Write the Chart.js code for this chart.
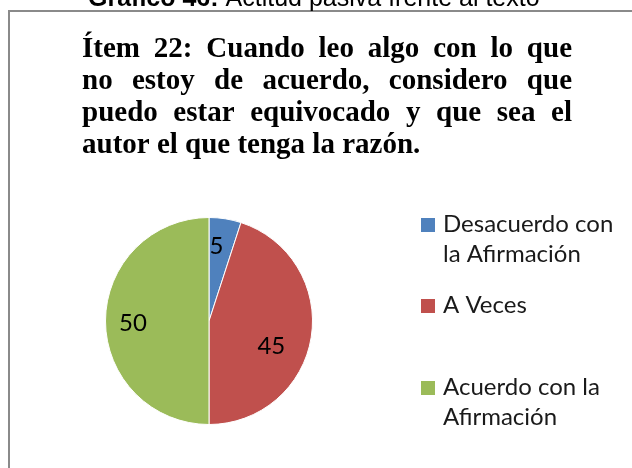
<!DOCTYPE html>
<html>
<head>
<meta charset="utf-8">
<script src="https://cdn.jsdelivr.net/npm/chart.js@4"></script>
<style>
  html, body { margin: 0; padding: 0; background: #fff; }
  #wrap { width: 632px; height: 468px; }
</style>
</head>
<body>
<div id="wrap"><canvas id="myChart" width="632" height="468"></canvas></div>
<script>
// données
const caption = ['Gráfico 46:', ' Actitud pasiva frente al texto'];
const titleLines = [
    'Ítem 22: Cuando leo algo con lo que',
    'no estoy de acuerdo, considero que',
    'puedo estar equivocado y que sea el',
    'autor el que tenga la razón.'
];
const categories = ['Desacuerdo con la Afirmación', 'A Veces', 'Acuerdo con la Afirmación'];
const values = [5, 45, 50];
const colors = ['#4F81BD', '#C0504D', '#9BBB59'];

// placement des étiquettes (fraction du rayon, décalage d'angle en degrés)
const labelPlace = [[0.735, -3.4], [0.645, 12], [0.735, -1]];
const legendBaseY = [232, 313, 395];

const decor = {
    id: 'decor',
    beforeDraw(chart) {
        const c = chart.ctx;
        c.save();
        c.fillStyle = '#fff';
        c.fillRect(0, 0, chart.width, chart.height);
        // cadre
        c.strokeStyle = '#8a8a8a';
        c.lineWidth = 2;
        c.beginPath();
        c.moveTo(9, 480);
        c.lineTo(9, 11);
        c.lineTo(640, 11);
        c.stroke();
        // légende du document (coupée en haut)
        c.fillStyle = '#000';
        c.textBaseline = 'alphabetic';
        c.font = 'bold 25px "Liberation Sans"';
        const w0 = c.measureText(caption[0]).width;
        c.fillText(caption[0], 88, 6);
        c.font = '25px "Liberation Sans"';
        c.fillText(caption[1], 88 + w0, 6);
        // titre justifié
        c.font = 'bold 29px "Liberation Serif"';
        const left = 82, right = 572;
        titleLines.forEach((line, i) => {
            const y = 57 + i * 32;
            const words = line.split(' ');
            if (i === titleLines.length - 1) {
                c.fillText(line, left, y);
                return;
            }
            const total = words.reduce((s, w) => s + c.measureText(w).width, 0);
            const gap = (right - left - total) / (words.length - 1);
            let x = left;
            words.forEach(w => {
                c.fillText(w, x, y);
                x += c.measureText(w).width + gap;
            });
        });
        c.restore();
    },
    afterDraw(chart) {
        const c = chart.ctx;
        c.save();
        // étiquettes des secteurs
        const meta = chart.getDatasetMeta(0);
        c.font = '24px Lato';
        c.fillStyle = '#000';
        c.textAlign = 'center';
        c.textBaseline = 'middle';
        meta.data.forEach((arc, i) => {
            const p = arc.getProps(['x', 'y', 'startAngle', 'endAngle', 'outerRadius'], true);
            const mid = (p.startAngle + p.endAngle) / 2 + labelPlace[i][1] * Math.PI / 180;
            const r = p.outerRadius * labelPlace[i][0];
            c.fillText(String(values[i]), p.x + Math.cos(mid) * r, p.y + Math.sin(mid) * r + 1);
        });
        // légende
        c.textAlign = 'left';
        c.textBaseline = 'alphabetic';
        c.font = '24px Lato';
        categories.forEach((label, i) => {
            const base = legendBaseY[i];
            c.fillStyle = colors[i];
            c.fillRect(421, base - 14, 14, 14);
            c.fillStyle = '#1a1a1a';
            // retour à la ligne
            const words = label.split(' ');
            const lines = [];
            let cur = '';
            words.forEach(w => {
                const t = cur ? cur + ' ' + w : w;
                if (c.measureText(t).width > 178 && cur) {
                    lines.push(cur);
                    cur = w;
                } else {
                    cur = t;
                }
            });
            lines.push(cur);
            lines.forEach((l, j) => c.fillText(l, 443, base + j * 30));
        });
        c.restore();
    }
};

const ctx = document.getElementById('myChart').getContext('2d');
const myChart = new Chart(ctx, {
    type: 'pie',
    data: {
        labels: categories,
        datasets: [{
            data: values,
            backgroundColor: colors,
            borderColor: '#ffffff',
            borderWidth: 1
        }]
    },
    options: {
        responsive: false,
        animation: false,
        devicePixelRatio: 1,
        layout: { padding: { left: 105, right: 319, top: 217, bottom: 43 } },
        plugins: {
            legend: { display: false },
            title: { display: false },
            tooltip: { enabled: false }
        }
    },
    plugins: [decor]
});
</script>
</body>
</html>
